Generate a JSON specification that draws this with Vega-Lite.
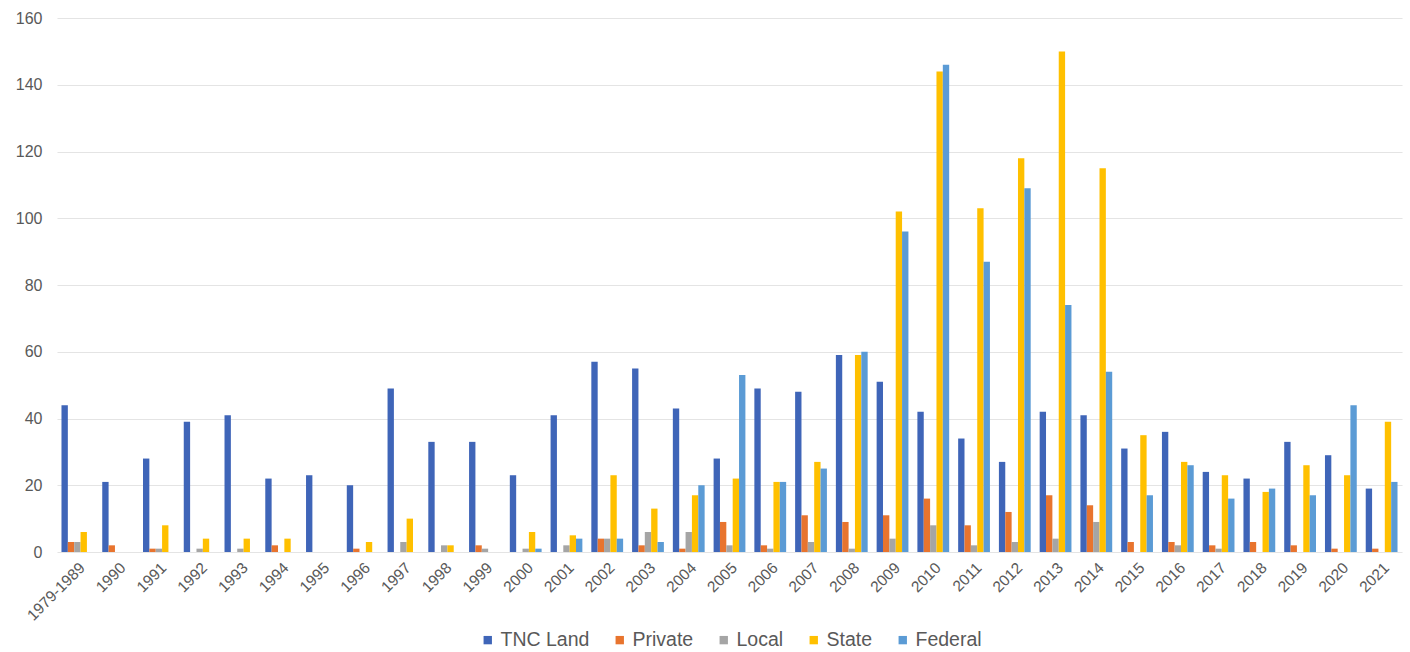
{
  "$schema": "https://vega.github.io/schema/vega-lite/v6.json",
  "width": 1410,
  "height": 652,
  "autosize": {"type": "fit", "contains": "padding"},
  "padding": {"left": 15, "right": 8, "top": 10, "bottom": 2},
  "background": "white",
  "datasets": {
    "wide": [
      {"year": "1979-1989", "tnc": 44, "priv": 3, "loc": 3, "state": 6, "fed": 0},
      {"year": "1990", "tnc": 21, "priv": 2, "loc": 0, "state": 0, "fed": 0},
      {"year": "1991", "tnc": 28, "priv": 1, "loc": 1, "state": 8, "fed": 0},
      {"year": "1992", "tnc": 39, "priv": 0, "loc": 1, "state": 4, "fed": 0},
      {"year": "1993", "tnc": 41, "priv": 0, "loc": 1, "state": 4, "fed": 0},
      {"year": "1994", "tnc": 22, "priv": 2, "loc": 0, "state": 4, "fed": 0},
      {"year": "1995", "tnc": 23, "priv": 0, "loc": 0, "state": 0, "fed": 0},
      {"year": "1996", "tnc": 20, "priv": 1, "loc": 0, "state": 3, "fed": 0},
      {"year": "1997", "tnc": 49, "priv": 0, "loc": 3, "state": 10, "fed": 0},
      {"year": "1998", "tnc": 33, "priv": 0, "loc": 2, "state": 2, "fed": 0},
      {"year": "1999", "tnc": 33, "priv": 2, "loc": 1, "state": 0, "fed": 0},
      {"year": "2000", "tnc": 23, "priv": 0, "loc": 1, "state": 6, "fed": 1},
      {"year": "2001", "tnc": 41, "priv": 0, "loc": 2, "state": 5, "fed": 4},
      {"year": "2002", "tnc": 57, "priv": 4, "loc": 4, "state": 23, "fed": 4},
      {"year": "2003", "tnc": 55, "priv": 2, "loc": 6, "state": 13, "fed": 3},
      {"year": "2004", "tnc": 43, "priv": 1, "loc": 6, "state": 17, "fed": 20},
      {"year": "2005", "tnc": 28, "priv": 9, "loc": 2, "state": 22, "fed": 53},
      {"year": "2006", "tnc": 49, "priv": 2, "loc": 1, "state": 21, "fed": 21},
      {"year": "2007", "tnc": 48, "priv": 11, "loc": 3, "state": 27, "fed": 25},
      {"year": "2008", "tnc": 59, "priv": 9, "loc": 1, "state": 59, "fed": 60},
      {"year": "2009", "tnc": 51, "priv": 11, "loc": 4, "state": 102, "fed": 96},
      {"year": "2010", "tnc": 42, "priv": 16, "loc": 8, "state": 144, "fed": 146},
      {"year": "2011", "tnc": 34, "priv": 8, "loc": 2, "state": 103, "fed": 87},
      {"year": "2012", "tnc": 27, "priv": 12, "loc": 3, "state": 118, "fed": 109},
      {"year": "2013", "tnc": 42, "priv": 17, "loc": 4, "state": 150, "fed": 74},
      {"year": "2014", "tnc": 41, "priv": 14, "loc": 9, "state": 115, "fed": 54},
      {"year": "2015", "tnc": 31, "priv": 3, "loc": 0, "state": 35, "fed": 17},
      {"year": "2016", "tnc": 36, "priv": 3, "loc": 2, "state": 27, "fed": 26},
      {"year": "2017", "tnc": 24, "priv": 2, "loc": 1, "state": 23, "fed": 16},
      {"year": "2018", "tnc": 22, "priv": 3, "loc": 0, "state": 18, "fed": 19},
      {"year": "2019", "tnc": 33, "priv": 2, "loc": 0, "state": 26, "fed": 17},
      {"year": "2020", "tnc": 29, "priv": 1, "loc": 0, "state": 23, "fed": 44},
      {"year": "2021", "tnc": 19, "priv": 1, "loc": 0, "state": 39, "fed": 21}
    ]
  },
  "data": {"name": "wide"},
  "transform": [
    {"fold": ["tnc", "priv", "loc", "state", "fed"], "as": ["key", "value"]},
    {"lookup": "key", "from": {"data": {"values": [
      {"key": "tnc", "series": "TNC Land"},
      {"key": "priv", "series": "Private"},
      {"key": "loc", "series": "Local"},
      {"key": "state", "series": "State"},
      {"key": "fed", "series": "Federal"}
    ]}, "key": "key", "fields": ["series"]}}
  ],
  "mark": {"type": "bar"},
  "encoding": {
    "x": {
      "field": "year", "type": "nominal", "sort": null, "title": null,
      "scale": {"paddingInner": 0.22, "paddingOuter": 0.11},
      "axis": {
        "labelAngle": -45, "labelAlign": "right", "labelBaseline": "top",
        "labelFont": "Liberation Sans", "labelFontSize": 15.5, "labelColor": "#595959",
        "domain": false, "ticks": false, "labelPadding": 8
      }
    },
    "xOffset": {"field": "series", "type": "nominal", "sort": ["TNC Land", "Private", "Local", "State", "Federal"]},
    "y": {
      "field": "value", "type": "quantitative", "title": null,
      "scale": {"domain": [0, 160], "nice": false},
      "axis": {
        "values": [0, 20, 40, 60, 80, 100, 120, 140, 160],
        "labelFont": "Liberation Sans", "labelFontSize": 16, "labelColor": "#595959",
        "domain": false, "ticks": false, "labelPadding": 15,
        "gridColor": "#e4e4e4", "gridWidth": 1.2
      }
    },
    "color": {
      "field": "series", "type": "nominal", "title": null,
      "sort": ["TNC Land", "Private", "Local", "State", "Federal"],
      "scale": {
        "domain": ["TNC Land", "Private", "Local", "State", "Federal"],
        "range": ["#3f65b8", "#e8742e", "#a5a5a5", "#ffc000", "#5b9bd5"]
      },
      "legend": {
        "orient": "bottom", "direction": "horizontal", "symbolType": "square",
        "symbolSize": 70, "labelFont": "Liberation Sans", "labelFontSize": 19.5,
        "labelColor": "#595959", "columnPadding": 20, "symbolStrokeWidth": 0, "offset": 6,
        "labelOffset": 3
      }
    }
  },
  "config": {
    "view": {"stroke": null},
    "legend": {"layout": {"bottom": {"anchor": "middle"}}}
  }
}
